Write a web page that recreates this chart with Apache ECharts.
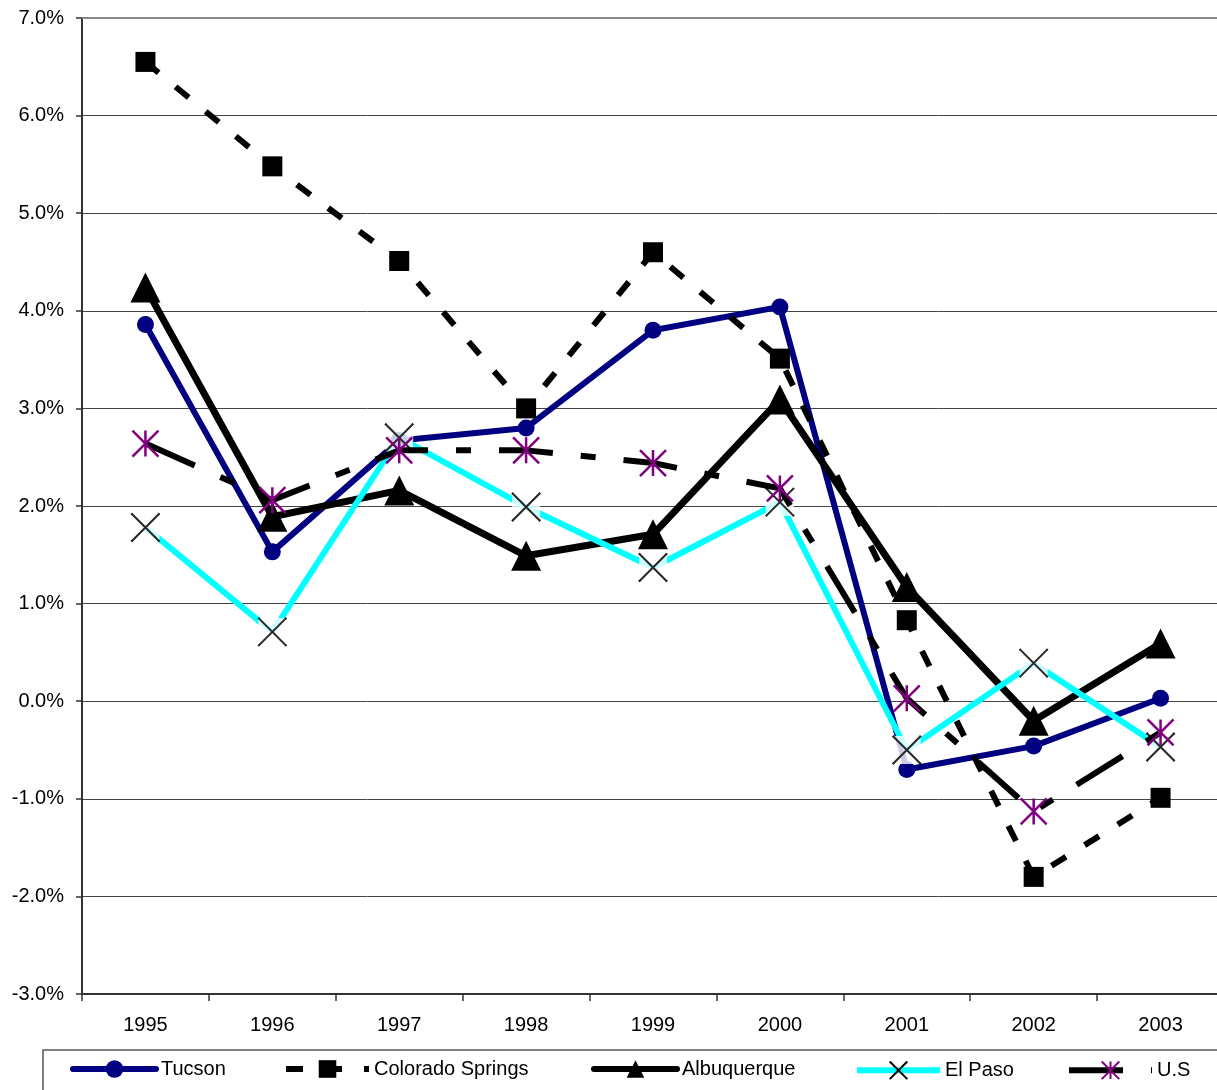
<!DOCTYPE html>
<html>
<head>
<meta charset="utf-8">
<script src="https://cdn.jsdelivr.net/npm/echarts@6/dist/echarts.min.js"></script>
<style>
html,body{margin:0;padding:0;background:#fff;overflow:hidden;}
#chart{width:1224px;height:1090px;}
</style>
</head>
<body>
<div id="chart"></div>
<script>
var years = ['1995','1996','1997','1998','1999','2000','2001','2002','2003'];
var tucson = [3.86, 1.53, 2.67, 2.80, 3.80, 4.04, -0.70, -0.46, 0.03];
var coloradoSprings = [6.55, 5.48, 4.51, 3.00, 4.60, 3.51, 0.83, -1.80, -0.99];
var albuquerque = [4.24, 1.89, 2.16, 1.49, 1.71, 3.09, 1.17, -0.20, 0.59];
var elPaso = [1.78, 0.71, 2.70, 1.99, 1.37, 2.04, -0.50, 0.39, -0.47];
var us = [2.64, 2.06, 2.57, 2.57, 2.44, 2.18, 0.03, -1.13, -0.32];
var yMin = -3, yMax = 7, yStep = 1;

var FONT = 'Arial, "Liberation Sans", sans-serif';
var X_PATH = 'path://M0,0L28,28M28,0L0,28';
var AST_PATH = 'path://M0,0L26,26M26,0L0,26M13,0L13,26';

var chart = echarts.init(document.getElementById('chart'));

function legendItem(name, left, lw) {
  return {
    data: [name], left: left, top: 1059, padding: 0,
    itemWidth: 83, itemHeight: 22, selectedMode: false,
    textStyle: {fontSize: 20, fontFamily: FONT, color: '#000', padding: [0, 0, 0, 0]},
    lineStyle: {width: lw}
  };
}

var option = {
  animation: false,
  backgroundColor: '#fff',
  grid: {left: 82, top: 18, bottom: 96, right: 0, containLabel: false},
  xAxis: [{
    type: 'category', data: years, boundaryGap: true,
    axisLine: {onZero: false, lineStyle: {color: '#333', width: 2}},
    axisTick: {show: true, length: 7, inside: false, lineStyle: {color: '#333', width: 1.5}},
    axisLabel: {fontSize: 20, fontFamily: FONT, color: '#000', margin: 21},
    splitLine: {show: false}
  }, {
    type: 'category', data: years, position: 'top',
    axisLine: {show: true, onZero: false, lineStyle: {color: '#888', width: 2}},
    axisTick: {show: false}, axisLabel: {show: false}, splitLine: {show: false}
  }],
  yAxis: {
    type: 'value', min: yMin, max: yMax, interval: yStep,
    axisLine: {show: true, onZero: false, lineStyle: {color: '#333', width: 2}},
    axisTick: {show: true, length: 6, inside: false, lineStyle: {color: '#333', width: 1.5}},
    axisLabel: {fontSize: 20, fontFamily: FONT, color: '#000', margin: 18,
      formatter: function (v) { return v.toFixed(1) + '%'; }},
    splitLine: {show: true, lineStyle: {color: '#444', width: 1}}
  },
  legend: [
    legendItem('Tucson', 70, 6),
    legendItem('Colorado Springs', 283, 6),
    legendItem('Albuquerque', 591, 6),
    legendItem('El Paso', 854, 6),
    legendItem('U.S', 1066, 6)
  ],
  graphic: [{
    type: 'rect', silent: true,
    shape: {x: 43, y: 1050, width: 1200, height: 80},
    style: {fill: 'none', stroke: '#555', lineWidth: 1.5}
  }],
  series: [
    {
      name: 'Tucson', type: 'line', data: tucson, z: 2,
      symbol: 'circle', symbolSize: 17, showAllSymbol: true,
      itemStyle: {color: '#000080'},
      lineStyle: {color: '#000080', width: 6, join: 'round', cap: 'round'}
    },
    {
      name: 'Colorado Springs', type: 'line', data: coloradoSprings, z: 2,
      symbol: 'rect', symbolSize: 20, showAllSymbol: true,
      itemStyle: {color: '#000'},
      lineStyle: {color: '#000', width: 6, type: [17, 22]}
    },
    {
      name: 'Albuquerque', type: 'line', data: albuquerque, z: 2,
      symbol: 'triangle', symbolSize: 30, showAllSymbol: true,
      itemStyle: {color: '#000'},
      lineStyle: {color: '#000', width: 7, join: 'round', cap: 'round'}
    },
    {
      name: 'El Paso', type: 'line', data: elPaso, z: 2,
      symbol: X_PATH, symbolSize: 28, showAllSymbol: true,
      itemStyle: {color: 'none', borderColor: '#000', borderWidth: 2},
      lineStyle: {color: '#00FFFF', width: 6}
    },
    {
      name: 'ep_bg', type: 'scatter', data: elPaso, z: 3, silent: true,
      symbol: 'rect', symbolSize: 28,
      itemStyle: {color: '#fff'}
    },
    {
      name: 'ep_x', type: 'scatter', data: elPaso, z: 4, silent: true,
      symbol: X_PATH, symbolSize: 28,
      itemStyle: {color: 'none', borderColor: '#000', borderWidth: 2}
    },
    {
      name: 'U.S', type: 'line', data: us, z: 5,
      symbol: AST_PATH, symbolSize: 26, showAllSymbol: true,
      itemStyle: {color: 'none', borderColor: '#800080', borderWidth: 2.5},
      lineStyle: {color: '#000', width: 6, type: [54, 28, 15, 28]}
    }
  ]
};
chart.setOption(option);
</script>
</body>
</html>
